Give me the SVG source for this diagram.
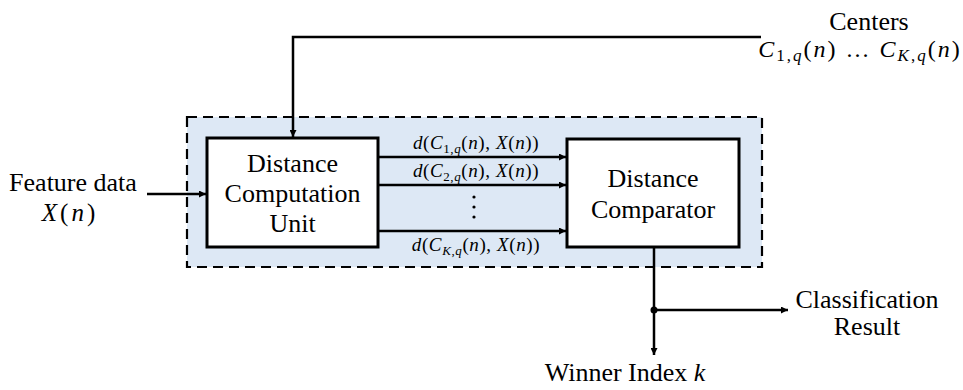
<svg xmlns="http://www.w3.org/2000/svg" width="963" height="390" viewBox="0 0 963 390">
<defs>
<style>
.t{font-family:"Times New Roman","Liberation Serif",Tinos,serif;font-size:26px;fill:#000}
.m{font-family:"Times New Roman","Liberation Serif",Tinos,serif;font-style:italic;fill:#000;letter-spacing:0.6px}
.u{font-style:normal}
.box{fill:#fff;stroke:#000;stroke-width:3}
.ln{fill:none;stroke:#000;stroke-width:2.5}
.lbl{font-size:19px}
.s{font-size:13px}
.S{font-size:17px}
</style>
<marker id="ah" viewBox="0 0 10 10" refX="10" refY="5" markerWidth="9" markerHeight="7" markerUnits="userSpaceOnUse" orient="auto">
<path d="M0,0 L10,5 L0,10 z" fill="#000"/>
</marker>
</defs>
<rect id="container" x="187" y="117" width="575" height="150" fill="#dde8f5" stroke="#000" stroke-width="2.2" stroke-dasharray="10,6"/>
<g id="connectors">
<polyline class="ln" points="761,37 293,37 293,137" marker-end="url(#ah)"/>
<line class="ln" x1="147" y1="194" x2="206" y2="194" marker-end="url(#ah)"/>
<line class="ln" x1="378" y1="157" x2="566" y2="157" marker-end="url(#ah)"/>
<line class="ln" x1="378" y1="185" x2="566" y2="185" marker-end="url(#ah)"/>
<line class="ln" x1="378" y1="231" x2="566" y2="231" marker-end="url(#ah)"/>
<line class="ln" x1="654" y1="247" x2="654" y2="355" marker-end="url(#ah)"/>
<line class="ln" x1="654" y1="310" x2="788" y2="310" marker-end="url(#ah)"/>
<circle cx="654" cy="310" r="3.5" fill="#000"/>
<circle cx="474" cy="197" r="1.6" fill="#000"/>
<circle cx="474" cy="207" r="1.6" fill="#000"/>
<circle cx="474" cy="217" r="1.6" fill="#000"/>
<text class="m lbl" x="476" y="149" text-anchor="middle">d<tspan class="u">(</tspan>C<tspan class="u s" dy="4">1,</tspan><tspan class="s">q</tspan><tspan class="u" dy="-4">(</tspan>n<tspan class="u">), </tspan>X<tspan class="u">(</tspan>n<tspan class="u">))</tspan></text>
<text class="m lbl" x="476" y="177" text-anchor="middle">d<tspan class="u">(</tspan>C<tspan class="u s" dy="4">2,</tspan><tspan class="s">q</tspan><tspan class="u" dy="-4">(</tspan>n<tspan class="u">), </tspan>X<tspan class="u">(</tspan>n<tspan class="u">))</tspan></text>
<text class="m lbl" x="476" y="251" text-anchor="middle">d<tspan class="u">(</tspan>C<tspan class="s" dy="4">K</tspan><tspan class="u s">,</tspan><tspan class="s">q</tspan><tspan class="u" dy="-4">(</tspan>n<tspan class="u">), </tspan>X<tspan class="u">(</tspan>n<tspan class="u">))</tspan></text>
</g>
<g id="dcu">
<rect class="box" x="207" y="138" width="171" height="109"/>
<text class="t" x="292.5" y="172" text-anchor="middle">Distance</text>
<text class="t" x="292.5" y="202" text-anchor="middle">Computation</text>
<text class="t" x="292.5" y="232" text-anchor="middle">Unit</text>
</g>
<g id="comparator">
<rect class="box" x="567" y="139" width="172" height="108"/>
<text class="t" x="653" y="187" text-anchor="middle">Distance</text>
<text class="t" x="653" y="218" text-anchor="middle">Comparator</text>
</g>
<g id="centers">
<text class="t" x="869" y="30" text-anchor="middle">Centers</text>
<text class="m" font-size="24" x="860" y="57" text-anchor="middle" style="letter-spacing:2px">C<tspan class="u S" dy="4">1,</tspan><tspan class="S">q</tspan><tspan class="u" dy="-4">(</tspan>n<tspan class="u">) … </tspan>C<tspan class="S" dy="4">K</tspan><tspan class="u S">,</tspan><tspan class="S">q</tspan><tspan class="u" dy="-4">(</tspan>n<tspan class="u">)</tspan></text>
</g>
<g id="feature">
<text class="t" x="73" y="191" text-anchor="middle">Feature data</text>
<text class="m" font-size="25" x="70" y="221" text-anchor="middle" style="letter-spacing:3px">X<tspan class="u">(</tspan>n<tspan class="u">)</tspan></text>
</g>
<g id="classification">
<text class="t" x="867" y="308" text-anchor="middle">Classification</text>
<text class="t" x="867" y="335" text-anchor="middle">Result</text>
</g>
<g id="winner">
<text class="t" x="625" y="381" text-anchor="middle">Winner Index <tspan font-style="italic">k</tspan></text>
</g>
</svg>
